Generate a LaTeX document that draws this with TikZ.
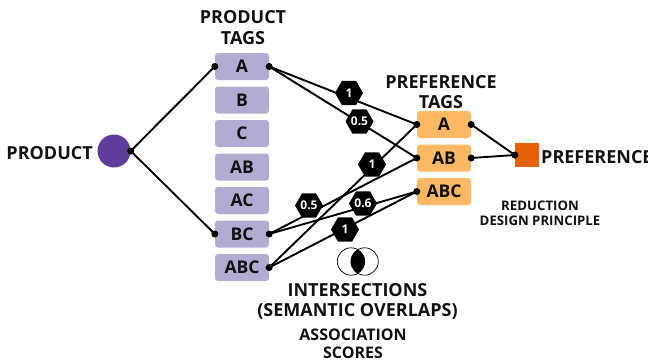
\documentclass[tikz,border=0pt]{standalone}
\usepackage{fontspec}
\setmainfont{Open Sans}
\usetikzlibrary{shapes.geometric}
\definecolor{tagpurple}{HTML}{B2ABD2}
\definecolor{tagorange}{HTML}{FDB863}
\definecolor{prodpurple}{HTML}{5E3C99}
\definecolor{preforange}{HTML}{E66101}
\definecolor{inkblack}{HTML}{111111}
\tikzset{
  ptag/.style={draw=none,fill=tagpurple,rounded corners=3pt,minimum width=54pt,minimum height=27pt,inner sep=0pt,text=inkblack,font=\fontsize{17.5}{17.5}\selectfont\bfseries},
  ftag/.style={ptag,fill=tagorange},
  head/.style={align=center,inner sep=0pt,text=inkblack,font=\fontsize{18}{20.5}\selectfont\bfseries},
  small/.style={align=center,inner sep=0pt,text=inkblack,font=\fontsize{13.2}{15}\selectfont\bfseries},
  mid/.style={align=center,inner sep=0pt,text=inkblack,font=\fontsize{18}{20}\selectfont\bfseries},
  assoc/.style={align=center,inner sep=0pt,text=inkblack,font=\fontsize{16}{18}\selectfont\bfseries},
  score/.style={regular polygon,regular polygon sides=6,fill=black,text=white,inner sep=0pt,minimum size=28pt,font=\fontsize{12}{12}\selectfont\bfseries},
  link/.style={line width=1.9pt,draw=black},
  dot/.style={circle,fill=black,inner sep=0pt,minimum size=7pt}
}
\begin{document}
\begin{tikzpicture}[x=1pt,y=-1pt]
\useasboundingbox (0,0) rectangle (648,362);
\clip (0,0) rectangle (648,362);
% nodes
\node[circle,fill=prodpurple,minimum size=33pt,inner sep=0pt] (prod) at (114,151) {};
\node[ptag] (pa) at (242,66.5) {A};
\node[ptag] (pb) at (242,100) {B};
\node[ptag] (pc) at (242,133.5) {C};
\node[ptag] (pab) at (242,167) {AB};
\node[ptag] (pac) at (242,200.5) {AC};
\node[ptag] (pbc) at (242,234) {BC};
\node[ptag] (pabc) at (242,267.5) {ABC};
\node[ftag] (fa) at (444,124.5) {A};
\node[ftag] (fab) at (444,158) {AB};
\node[ftag] (fabc) at (444,191.5) {ABC};
\node[fill=preforange,minimum size=24pt,inner sep=0pt] (pref) at (527,155) {};
% connectors
\draw[link] (prod.east) -- (pa.west);
\draw[link] (prod.east) -- (pbc.west);
\draw[link] (pa.east) -- (fa.west);
\draw[link] (pa.east) -- (fab.west);
\draw[link] (pbc.east) -- (fab.west);
\draw[link] (pbc.east) -- (fabc.west);
\draw[link] (pabc.east) -- (fa.west);
\draw[link] (pabc.east) -- (fabc.west);
\draw[link] (fa.east) -- (pref.west);
\draw[link] (fab.east) -- (pref.west);
% dots
\foreach \p in {prod.east,pa.west,pbc.west,pa.east,pbc.east,pabc.east,fa.west,fab.west,fabc.west,fa.east,fab.east,pref.west}
  \node[dot] at (\p) {};
% scores
\node[score] (s1) at (349,93) {1};
\node[score] (s2) at (359.5,121.5) {0.5};
\node[score] (s3) at (372,164.5) {1};
\node[score] (s4) at (309,205.5) {0.5};
\node[score] (s5) at (363,203.5) {0.6};
\node[score] (s6) at (345,229.5) {1};
% venn
\begin{scope}
  \clip (351,261.5) circle (13.7);
  \fill[black] (364.6,261.5) circle (13.7);
\end{scope}
\draw[line width=0.7pt] (351,261.5) circle (13.7);
\draw[line width=0.7pt] (364.6,261.5) circle (13.7);
% labels
\node[head] (tp) at (243,27.5) {PRODUCT\\TAGS};
\node[head] (tf) at (441,92) {PREFERENCE\\TAGS};
\node[head,anchor=east] (lp) at (93,153) {PRODUCT};
\node[head,anchor=west] (lf) at (541,157) {PREFERENCE};
\node[small] (tr) at (540,213) {REDUCTION\\DESIGN PRINCIPLE};
\node[mid] (ti) at (357.5,301.5) {INTERSECTIONS\\(SEMANTIC OVERLAPS)};
\node[assoc] (ta) at (353,344) {ASSOCIATION\\SCORES};
\end{tikzpicture}
\end{document}
